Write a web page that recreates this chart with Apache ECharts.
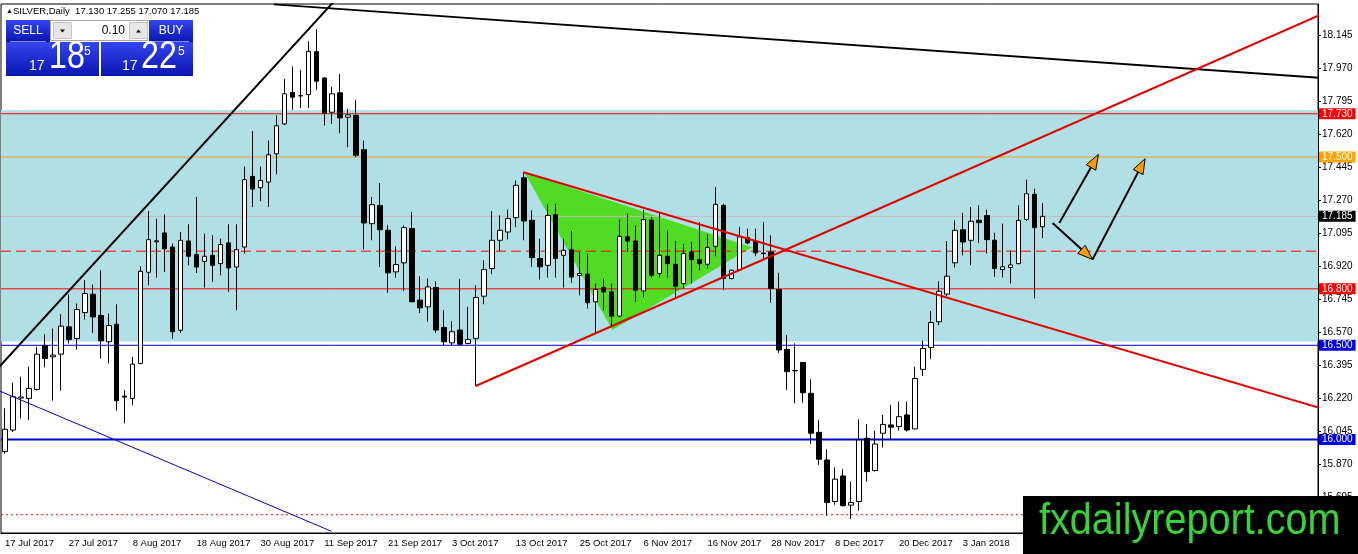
<!DOCTYPE html>
<html>
<head>
<meta charset="utf-8">
<title>SILVER,Daily</title>
<script src="https://cdn.jsdelivr.net/npm/echarts@6/dist/echarts.min.js"></script>
<style>
html, body { margin: 0; padding: 0; background: #fff; }
#box { width: 1358px; height: 554px; }
</style>
</head>
<body>
<div id="box"></div>
<script>
// daily bars, 17 Jul 2017 .. 17 Jan 2018
var opens = [15.935,16.050,16.220,16.218,16.266,16.499,16.439,16.453,16.598,16.536,
16.674,16.771,16.658,16.519,16.612,16.230,16.218,16.404,16.888,17.050,
17.097,17.022,16.580,17.054,16.982,16.945,16.978,16.934,17.044,16.916,
17.022,17.397,17.337,17.367,17.517,17.676,17.843,17.825,17.832,18.060,
17.920,17.738,17.841,17.712,17.721,17.539,17.146,17.243,17.111,16.890,
16.938,17.120,16.740,16.704,16.807,16.595,16.513,16.581,16.510,16.536,
16.761,16.908,17.058,17.102,17.178,17.390,17.164,16.961,16.925,17.194,
16.978,17.008,16.871,16.878,16.731,16.807,16.784,16.655,17.076,17.054,
16.789,17.164,16.881,16.973,16.931,16.828,16.996,16.955,16.931,17.026,
17.243,16.855,16.902,17.072,17.054,16.990,16.996,16.796,16.478,16.366,
16.409,16.245,16.038,15.891,15.670,15.806,15.651,15.670,16.006,15.835,
16.033,16.077,16.068,16.130,16.056,16.372,16.489,16.625,16.772,16.938,
17.114,17.058,17.164,17.189,17.058,16.902,16.913,16.934,17.169,17.302,
17.130];
var highs = [16.165,16.301,16.333,16.386,16.492,16.559,16.589,16.665,16.771,16.722,
16.846,16.823,16.899,16.669,16.718,16.262,16.439,16.920,17.213,17.173,
17.196,17.040,17.102,17.143,17.288,17.093,17.084,17.067,17.143,17.143,
17.450,17.638,17.450,17.588,17.721,17.915,17.981,17.963,18.115,18.180,
17.925,17.874,17.942,17.756,17.804,17.588,17.288,17.362,17.137,17.026,
17.137,17.208,16.867,16.855,16.840,16.687,16.628,16.851,16.704,16.819,
16.952,17.213,17.190,17.221,17.376,17.420,17.217,17.067,17.249,17.252,
17.067,17.107,16.996,16.987,16.828,16.855,16.828,17.168,17.199,17.137,
17.221,17.182,17.203,17.111,17.054,17.037,17.049,17.155,17.090,17.341,
17.252,16.902,17.129,17.120,17.120,17.155,17.084,16.885,16.554,16.510,
16.412,16.319,16.103,15.948,15.852,15.842,15.776,16.107,16.082,16.047,
16.130,16.183,16.201,16.201,16.386,16.524,16.683,16.841,17.054,17.164,
17.203,17.235,17.243,17.221,17.097,17.146,17.005,17.243,17.380,17.332,
17.255];
var lows = [15.925,16.040,16.112,16.103,16.259,16.383,16.206,16.259,16.510,16.478,
16.637,16.566,16.430,16.404,16.153,16.086,16.183,16.400,16.819,16.860,
16.890,16.536,16.565,16.925,16.884,16.807,16.837,16.872,16.784,16.687,
16.987,17.235,17.266,17.235,17.408,17.670,17.751,17.761,17.761,17.857,
17.668,17.676,17.627,17.553,17.500,17.008,17.058,16.916,16.779,16.860,
16.789,16.730,16.672,16.625,16.566,16.496,16.496,16.501,16.505,16.284,
16.718,16.878,17.001,17.063,17.129,17.058,16.917,16.849,16.860,16.860,
16.807,16.832,16.766,16.696,16.563,16.687,16.598,16.651,16.996,16.731,
16.754,16.860,16.860,16.860,16.757,16.802,16.828,16.899,16.908,16.973,
16.793,16.850,16.899,17.037,16.973,16.952,16.726,16.460,16.263,16.192,
16.195,15.976,15.865,15.594,15.653,15.644,15.577,15.622,15.776,15.829,
15.957,16.001,16.047,16.042,16.054,16.337,16.427,16.607,16.761,16.913,
16.978,16.925,17.044,16.987,16.863,16.860,16.828,16.930,17.160,16.749,
17.070];
var closes = [16.054,16.227,16.225,16.271,16.453,16.430,16.448,16.602,16.531,16.690,
16.775,16.651,16.524,16.605,16.206,16.225,16.400,16.893,17.061,17.055,
17.012,16.572,17.058,16.973,16.916,16.973,16.925,17.035,16.911,17.008,
17.380,17.330,17.376,17.512,17.666,17.836,17.818,17.826,18.062,17.903,
17.733,17.836,17.708,17.724,17.509,17.150,17.247,17.114,16.885,16.929,
17.125,16.731,16.699,16.810,16.581,16.519,16.572,16.506,16.531,16.754,
16.902,17.058,17.111,17.173,17.350,17.160,16.966,16.917,17.190,16.961,
17.005,16.863,16.881,16.726,16.796,16.784,16.655,17.079,17.054,16.793,
17.168,16.872,16.978,16.934,16.814,16.987,16.955,16.934,17.019,17.249,
16.855,16.899,17.076,17.044,16.991,16.987,16.802,16.475,16.360,16.365,
16.248,16.033,15.895,15.665,15.789,15.648,15.665,15.997,15.829,15.976,
16.080,16.065,16.121,16.050,16.324,16.483,16.621,16.787,16.867,17.111,
17.049,17.159,17.152,17.061,16.908,16.917,16.927,17.164,17.305,17.125,
17.185];

var firstDay = '2017-07-17';
var holidays = ['2017-12-25', '2018-01-01'];
var emptyBars = 34;          // chart shift on the right
var monthNames = ['Jan','Feb','Mar','Apr','May','Jun','Jul','Aug','Sep','Oct','Nov','Dec'];

var yTicks = [18.145,17.970,17.795,17.620,17.445,17.270,17.095,16.920,16.745,16.570,16.395,16.220,16.045,15.870,15.695];
var yMin = 15.503, yMax = 18.313;

// horizontal levels
var zoneLow = 16.52, zoneHigh = 17.75;
var redLevels = [17.730, 16.800];
var orangeLevel = 17.500;
var bidPrice = 17.185;
var blueThin = 16.500;
var blueThick = 16.000;
var dashedLevel = 17.000;
var dottedLevel = 15.600;

// trendlines: [bar index, price]
var blackUp = [[-2, 16.326], [42.8, 18.40]];
var blackTop = [[33.7, 18.311], [166, 17.917]];
var redDown = [[64.96, 17.419], [166, 16.151]];
var redUp = [[58.96, 16.284], [166, 18.278]];
var blueDown = [[-2, 16.281], [40.9, 15.512]];
var triangle = [[65.09, 17.418], [76.09, 16.581], [93.59, 17.021]];
// arrows: [from bar, from price, to bar, to price]
var arrows = [[132.09, 17.150, 136.99, 17.514], [131.25, 17.150, 136.25, 16.956], [136.25, 16.956, 142.84, 17.491]];

function tradingDays(start, n) {
    var d = new Date(start + 'T00:00:00Z'), out = [];
    while (out.length < n) {
        var dow = d.getUTCDay(), iso = d.toISOString().slice(0, 10);
        if (dow !== 0 && dow !== 6 && holidays.indexOf(iso) < 0) {
            out.push(d.getUTCDate() + ' ' + monthNames[d.getUTCMonth()] + ' ' + d.getUTCFullYear());
        }
        d.setUTCDate(d.getUTCDate() + 1);
    }
    return out;
}

var days = tradingDays(firstDay, opens.length);
var cats = days.concat(new Array(emptyBars).fill(''));
var candles = opens.map(function (o, i) { return [o, closes[i], lows[i], highs[i]]; });
var xLo = -0.5, xHi = cats.length - 0.5;

var FONT = 'Liberation Sans, Arial, DejaVu Sans, sans-serif';

// a horizontal price line across the whole chart, with an optional price tag on the axis
function level(v, color, width, type, tagColor) {
    return {
        type: 'line', xAxisIndex: 1, data: [[xLo, v], [xHi, v]], symbol: 'none', z: 2, silent: true,
        lineStyle: { color: color, width: width, type: type },
        endLabel: tagColor ? {
            show: true, distance: 1, color: '#fff', fontSize: 10, padding: [1, 3, 0, 3],
            backgroundColor: tagColor, formatter: function () { return v.toFixed(3); }
        } : { show: false }
    };
}

function trend(pts, color, width) {
    return {
        type: 'line', xAxisIndex: 1, data: pts, symbol: 'none', z: 4, silent: true,
        lineStyle: { color: color, width: width }, clip: true
    };
}

function txt(x, y, s, size, color, align, valign, extra) {
    var el = { type: 'text', x: x, y: y, z: 101,
        style: { text: s, fontSize: size, fontFamily: FONT, fill: color, align: align || 'left', verticalAlign: valign || 'middle' } };
    if (extra) for (var k in extra) el[k] = extra[k];
    return el;
}

var blueGrad = new echarts.graphic.LinearGradient(0, 0, 0, 1, [
    { offset: 0, color: '#3346ee' }, { offset: 1, color: '#0a14b0' }]);

var myChart = echarts.init(document.getElementById('box'));
var option = {
    animation: false,
    backgroundColor: '#fff',
    textStyle: { fontFamily: FONT },
    grid: { left: 1, right: 40, top: 4, bottom: 21, show: true, borderColor: '#000', borderWidth: 1, backgroundColor: '#fff' },
    xAxis: [{
        type: 'category', data: cats, boundaryGap: true,
        axisLine: { onZero: false, lineStyle: { color: '#000' } },
        axisTick: { interval: 7, alignWithLabel: true, length: 3, lineStyle: { color: '#000' } },
        axisLabel: { interval: 7, align: 'left', color: '#000', fontSize: 9.5, margin: 5 },
        splitLine: { show: false }
    }, {
        type: 'value', min: xLo, max: xHi, show: false,
        axisLine: { onZero: false }
    }],
    yAxis: {
        type: 'value', position: 'right', min: yMin, max: yMax,
        axisLine: { show: true, onZero: false, lineStyle: { color: '#000' } },
        axisTick: { show: true, length: 3, customValues: yTicks, lineStyle: { color: '#000' } },
        axisLabel: { customValues: yTicks, color: '#000', fontSize: 10, margin: 4,
            formatter: function (v) { return v.toFixed(3); } },
        splitLine: { show: false }
    },
    series: [{
        // blue zone
        type: 'line', data: [], z: 1, silent: true,
        markArea: { silent: true, itemStyle: { color: '#b0e0e6' },
            data: [[{ yAxis: zoneLow }, { yAxis: zoneHigh }]] }
    }, {
        type: 'custom', xAxisIndex: 1, z: 2, silent: true, clip: true,
        data: [[triangle[0][0], triangle[0][1]]],
        renderItem: function (params, api) {
            var pts = triangle.map(function (p) { return api.coord(p); });
            return { type: 'polygon', shape: { points: pts }, style: { fill: '#4fdc22' } };
        }
    },
    level(redLevels[0], '#ff0000', 1, 'solid', '#ff0000'),
    level(orangeLevel, '#f0a020', 1, 'solid', '#ffa500'),
    level(bidPrice, '#c9b9bf', 1, 'solid', '#000'),
    level(dashedLevel, '#ff0000', 1, [10, 5], null),
    level(redLevels[1], '#ff0000', 1, 'solid', '#ff0000'),
    level(blueThin, '#0000cd', 1, 'solid', '#0000e6'),
    level(blueThick, '#0000cd', 2, 'solid', '#0000e6'),
    level(dottedLevel, '#ff0000', 1, [2, 3], null),
    {
        type: 'candlestick', data: candles, barWidth: 5, z: 3, silent: true,
        itemStyle: { color: '#fff', color0: '#000', borderColor: '#000', borderColor0: '#000', borderWidth: 1 }
    },
    trend(blackUp, '#000', 2),
    trend(blackTop, '#000', 2),
    trend(redDown, '#e00000', 2),
    trend(redUp, '#e00000', 2),
    trend(blueDown, '#0000cd', 1),
    {
        type: 'custom', xAxisIndex: 1, z: 5, silent: true,
        data: arrows, encode: { x: [0, 2], y: [1, 3] },
        renderItem: function (params, api) {
            var a = api.coord([api.value(0), api.value(1)]);
            var b = api.coord([api.value(2), api.value(3)]);
            var dx = b[0] - a[0], dy = b[1] - a[1], len = Math.sqrt(dx * dx + dy * dy);
            var ux = dx / len, uy = dy / len, hl = 15, hw = 5.5;
            var base = [b[0] - ux * hl, b[1] - uy * hl];
            return { type: 'group', children: [
                { type: 'line', shape: { x1: a[0], y1: a[1], x2: base[0] + ux * 3, y2: base[1] + uy * 3 },
                  style: { stroke: '#000', lineWidth: 2 } },
                { type: 'polygon', shape: { points: [b, [base[0] - uy * hw, base[1] + ux * hw], [base[0] + uy * hw, base[1] - ux * hw]] },
                  style: { fill: '#ff9c00', stroke: '#000', lineWidth: 1 } }
            ] };
        }
    }],
    graphic: [
        txt(6, 11, '\u25B2', 7, '#000'),
        txt(13, 11, 'SILVER,Daily  17.130 17.255 17.070 17.185', 9.5, '#000'),
        // one-click trading panel
        { type: 'rect', z: 100, shape: { x: 6, y: 20, width: 44, height: 22 }, style: { fill: blueGrad } },
        { type: 'rect', z: 100, shape: { x: 149, y: 20, width: 44, height: 22 }, style: { fill: blueGrad } },
        { type: 'line', z: 101, shape: { x1: 10, y1: 41.5, x2: 46, y2: 41.5 }, style: { stroke: '#7f8cff', lineWidth: 1 } },
        { type: 'line', z: 101, shape: { x1: 153, y1: 41.5, x2: 189, y2: 41.5 }, style: { stroke: '#7f8cff', lineWidth: 1 } },
        txt(28, 31, 'SELL', 12, '#fff', 'center'),
        txt(171, 31, 'BUY', 12, '#fff', 'center'),
        { type: 'rect', z: 100, shape: { x: 50.5, y: 20.5, width: 97, height: 20 }, style: { fill: '#fff', stroke: '#a8a8a8' } },
        { type: 'rect', z: 101, shape: { x: 53.5, y: 22.5, width: 18, height: 16 }, style: { fill: '#e6e6e6', stroke: '#c4c4c4' } },
        { type: 'rect', z: 101, shape: { x: 129.5, y: 22.5, width: 18, height: 16 }, style: { fill: '#e6e6e6', stroke: '#c4c4c4' } },
        { type: 'polygon', z: 102, shape: { points: [[60, 29.5], [65, 29.5], [62.5, 32.5]] }, style: { fill: '#000' } },
        { type: 'polygon', z: 102, shape: { points: [[136, 32.5], [141, 32.5], [138.5, 29.5]] }, style: { fill: '#000' } },
        txt(125, 31, '0.10', 12, '#000', 'right'),
        { type: 'rect', z: 100, shape: { x: 6, y: 42, width: 93, height: 34 }, style: { fill: blueGrad } },
        { type: 'rect', z: 100, shape: { x: 101, y: 42, width: 92, height: 34 }, style: { fill: blueGrad } },
        txt(29, 66, '17', 14, '#fff'),
        txt(49, 58, '18', 38, '#fff', 'left', 'middle', { scaleX: 0.85 }),
        txt(84, 52, '5', 12, '#fff'),
        txt(122, 66, '17', 14, '#fff'),
        txt(141, 58, '22', 38, '#fff', 'left', 'middle', { scaleX: 0.85 }),
        txt(178, 52, '5', 12, '#fff'),
        // watermark
        { type: 'rect', z: 100, shape: { x: 1023, y: 496, width: 335, height: 58 }, style: { fill: '#000' } },
        txt(1039, 522, 'fxdailyreport.com', 44, '#3ad13a', 'left', 'middle', { scaleX: 0.9 })
    ]
};
myChart.setOption(option);
</script>
</body>
</html>
